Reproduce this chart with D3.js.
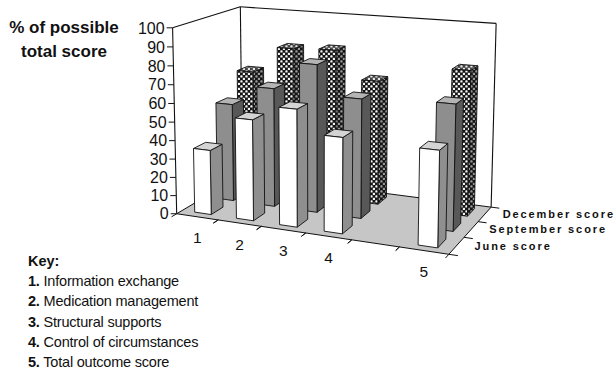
<!DOCTYPE html>
<html><head><meta charset="utf-8">
<script src="https://cdn.jsdelivr.net/npm/d3@7"></script>
<style>
body{margin:0;background:#fff}
svg{display:block}
text{font-family:Arial,'Liberation Sans',sans-serif;fill:#111}
</style>
</head><body>
<svg id="chart" width="616" height="376"></svg>
<script>
// ---- data ----
const categories = ["1", "2", "3", "4", "", "5"];          // blank slot before the total
const seriesNames = ["June score", "September score", "December score"];
const juneScore = [35, 54, 62, 50, null, 49];
const septemberScore = [54, 65, 80, 64, null, 66];
const decemberScore = [67, 82, 83, 68, null, 78];
const valueTicks = [0, 10, 20, 30, 40, 50, 60, 70, 80, 90, 100];
const titleLines = ["% of possible", "total score"];
const keyTitle = "Key:";
const keyNumbers = ["1.", "2.", "3.", "4.", "5."];
const keyLabels = ["Information exchange", "Medication management", "Structural supports",
                   "Control of circumstances", "Total outcome score"];

const seriesValues = [juneScore, septemberScore, decemberScore];

// ---- perspective camera, fitted to the corners of the plot box ----
// 3D space: X across categories [0,1], Y value [0,1], Z depth front->back [0,1]
const boxCorners = [
  [[0, 0, 0], [178, 213]],
  [[0, 1, 0], [172, 27]],
  [[0, 1, 1], [241, 7]],
  [[1, 1, 1], [496, 24]],
  [[1, 0, 1], [492, 205]],
  [[1, 0, 0], [448, 256]],
  [[0, 0, 1], [241, 176]]
];

function fitCamera(pairs) {
  const rows = [], rhs = [];
  for (const [[X, Y, Z], [u, v]] of pairs) {
    rows.push([X, Y, Z, 1, 0, 0, 0, 0, -u * X, -u * Y, -u * Z]); rhs.push(u);
    rows.push([0, 0, 0, 0, X, Y, Z, 1, -v * X, -v * Y, -v * Z]); rhs.push(v);
  }
  const n = 11;
  const M = Array.from({length: n}, () => new Array(n + 1).fill(0));
  rows.forEach((r, k) => {
    for (let i = 0; i < n; i++) {
      for (let j = 0; j < n; j++) M[i][j] += r[i] * r[j];
      M[i][n] += r[i] * rhs[k];
    }
  });
  for (let c = 0; c < n; c++) {
    let p = c;
    for (let r = c + 1; r < n; r++) if (Math.abs(M[r][c]) > Math.abs(M[p][c])) p = r;
    [M[c], M[p]] = [M[p], M[c]];
    for (let r = 0; r < n; r++) {
      if (r === c) continue;
      const f = M[r][c] / M[c][c];
      for (let j = c; j <= n; j++) M[r][j] -= f * M[c][j];
    }
  }
  const q = M.map((row, i) => row[n] / row[i]);
  return ([X, Y, Z]) => {
    const w = q[8] * X + q[9] * Y + q[10] * Z + 1;
    return [(q[0] * X + q[1] * Y + q[2] * Z + q[3]) / w,
            (q[4] * X + q[5] * Y + q[6] * Z + q[7]) / w];
  };
}
const project = fitCamera(boxCorners);

// ---- scales ----
const xBand = d3.scaleBand().domain(categories).range([0, 1]).paddingInner(0.6).paddingOuter(0.3);
const xSlot = d3.scaleBand().domain(categories).range([0, 1]);
const zBand = d3.scaleBand().domain(seriesNames).range([0, 1]).paddingInner(0.48).paddingOuter(0.24);
const zSlot = d3.scaleBand().domain(seriesNames).range([0, 1]);
const yScale = d3.scaleLinear().domain([0, 100]).range([0, 1]);

const svg = d3.select("#chart");
const line = d3.line();
const poly = pts => line(pts.map(project)) + "Z";

// ---- fill patterns for the December bars ----
const defs = svg.append("defs");
function checker(id, bg, dot) {
  const p = defs.append("pattern").attr("id", id).attr("patternUnits", "userSpaceOnUse")
    .attr("width", 5).attr("height", 5);
  p.append("rect").attr("width", 5).attr("height", 5).attr("fill", bg);
  p.append("rect").attr("x", 0.3).attr("y", 0.3).attr("width", 2.3).attr("height", 2.3).attr("rx", 0.7).attr("fill", dot);
  p.append("rect").attr("x", 2.8).attr("y", 2.8).attr("width", 2.3).attr("height", 2.3).attr("rx", 0.7).attr("fill", dot);
}
checker("chkFront", "#151515", "#f4f4f4");
checker("chkSide", "#151515", "#9a9a9a");
checker("chkTop", "#444", "#e8e8e8");

const faceStyles = [
  {front: "#ffffff", side: "#8f8f8f", top: "#d4d4d4"},
  {front: "#8e8e8e", side: "#585858", top: "#b4b4b4"},
  {front: "url(#chkFront)", side: "url(#chkSide)", top: "url(#chkTop)"}
];

// ---- walls and floor ----
const g = svg.append("g");
g.append("path").attr("d", poly([[0,0,0],[1,0,0],[1,0,1],[0,0,1]]))
  .attr("fill", "#c6c6c6").attr("stroke", "#111").attr("stroke-width", 1);
const wallLines = [
  [[0,0,0],[0,1,0]], [[0,1,0],[0,1,1]], [[0,1,1],[1,1,1]],
  [[1,1,1],[1,0,1]], [[0,1,1],[0,0,1]]
];
wallLines.forEach(s => g.append("path").attr("d", line(s.map(project)))
  .attr("fill", "none").attr("stroke", "#111").attr("stroke-width", 1.1));

// value ticks and labels along the front-left edge
valueTicks.forEach(v => {
  const [px, py] = project([0, yScale(v), 0]);
  g.append("line").attr("x1", px - 6).attr("x2", px).attr("y1", py).attr("y2", py)
    .attr("stroke", "#111").attr("stroke-width", 1);
  g.append("text").attr("x", px - 8).attr("y", py).attr("dy", "0.36em")
    .attr("text-anchor", "end").attr("font-size", 16).text(v);
});

// category ticks along the front floor edge
xSlot.domain().forEach(c => {
  const x0 = xSlot(c);
  [x0, x0 + xSlot.bandwidth()].forEach(xx => {
    g.append("path").attr("d", line([project([xx, 0, 0]), project([xx, 0, -0.07])]))
      .attr("stroke", "#111").attr("stroke-width", 1);
  });
});
// depth ticks along the right floor edge
[0, 1, 2, 3].forEach(k => {
  const zz = k / 3;
  g.append("path").attr("d", line([project([1, 0, zz]), project([1.03, 0, zz])]))
    .attr("stroke", "#111").attr("stroke-width", 1);
});

// ---- bars, back row first ----
const bars = g.append("g");
for (let s = seriesValues.length - 1; s >= 0; s--) {
  const name = seriesNames[s];
  const z0 = zBand(name), z1 = z0 + zBand.bandwidth();
  const st = faceStyles[s];
  categories.forEach((c, i) => {
    const v = seriesValues[s][i];
    if (v == null) return;
    const x0 = xBand(c), x1 = x0 + xBand.bandwidth();
    const h = yScale(v);
    const bar = bars.append("g");
    const faces = [
      {pts: [[x1,0,z0],[x1,0,z1],[x1,h,z1],[x1,h,z0]], fill: st.side},
      {pts: [[x0,h,z0],[x1,h,z0],[x1,h,z1],[x0,h,z1]], fill: st.top},
      {pts: [[x0,0,z0],[x1,0,z0],[x1,h,z0],[x0,h,z0]], fill: st.front}
    ];
    faces.forEach(f => {
      bar.append("path").attr("d", poly(f.pts)).attr("fill", f.fill)
        .attr("stroke", "#111").attr("stroke-width", 0.9).attr("stroke-linejoin", "round");
    });
  });
}

// ---- category labels ----
categories.forEach(c => {
  if (!c) return;
  const [px, py] = project([xSlot(c) + xSlot.bandwidth() / 2, 0, 0]);
  g.append("text").attr("x", px).attr("y", py + 21).attr("dy", "0.36em")
    .attr("text-anchor", "middle").attr("font-size", 15.5).text(c);
});

// ---- series (depth) labels ----
seriesNames.forEach(name => {
  const [px, py] = project([1, 0, zSlot(name) + zSlot.bandwidth() / 2]);
  g.append("text").attr("x", px + 18).attr("y", py).attr("dy", "0.36em")
    .attr("font-size", 11).attr("font-weight", "bold").attr("letter-spacing", 1.9)
    .text(name);
});

// ---- axis title ----
titleLines.forEach((t, i) => {
  svg.append("text").attr("x", 64).attr("y", 33 + i * 24).attr("text-anchor", "middle")
    .attr("font-size", 17).attr("font-weight", "bold").text(t);
});

// ---- key ----
svg.append("text").attr("x", 28).attr("y", 266).attr("font-size", 14.5)
  .attr("font-weight", "bold").text(keyTitle);
keyLabels.forEach((label, i) => {
  const t = svg.append("text").attr("x", 28).attr("y", 286 + i * 20.3).attr("font-size", 14.5)
    .attr("letter-spacing", -0.2);
  t.append("tspan").attr("font-weight", "bold").text(keyNumbers[i]);
  t.append("tspan").text(" " + label);
});
</script>
</body></html>
